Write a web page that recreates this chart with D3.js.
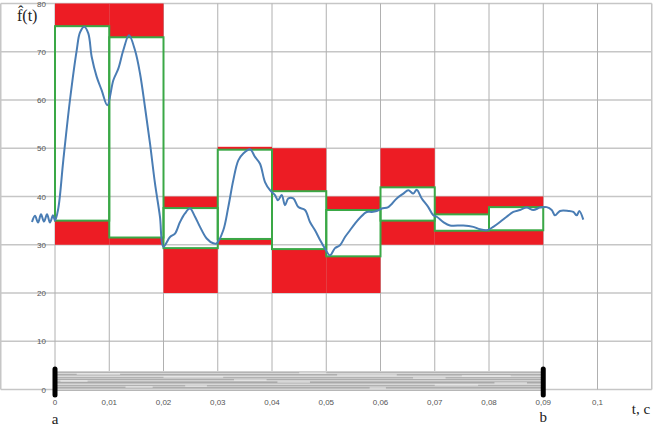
<!DOCTYPE html>
<html>
<head>
<meta charset="UTF-8">
<title>f(t)</title>
<script src="https://d3js.org/d3.v7.min.js"></script>
<style>
html, body { margin: 0; padding: 0; background: #fff; }
svg { display: block; }
.tick-lbl { font-family: "Liberation Sans", Arial, sans-serif; font-size: 8px; fill: #555; }
.serif { font-family: "Liberation Serif", "Times New Roman", serif; fill: #222; }
</style>
</head>
<body>
<script>
// curve f(t): time (s) and value
var curveT = [-0.00424, -0.00369, -0.00313, -0.00258, -0.00203, -0.00147, -0.00092, -0.00037, 0,
  0.0006, 0.00153, 0.00276, 0.004, 0.00461, 0.0054, 0.00614, 0.00677, 0.00769, 0.00861, 0.00964,
  0.01075, 0.01167, 0.01259, 0.01364, 0.01475, 0.01567, 0.01659, 0.01751, 0.01843, 0.01935, 0.01996,
  0.0212, 0.02212, 0.02304, 0.02396, 0.02488, 0.02581, 0.02673, 0.02796, 0.02918, 0.02981,
  0.03102, 0.03194, 0.03287, 0.03379, 0.03471, 0.03594, 0.03687, 0.03779, 0.03871, 0.03963,
  0.04055, 0.04111, 0.04179, 0.0424, 0.04301, 0.04393, 0.04485, 0.04608, 0.047, 0.04793, 0.04885, 0.04977,
  0.05069, 0.05161, 0.05253, 0.05346, 0.05438, 0.0553, 0.05622, 0.05746, 0.05838, 0.0593,
  0.06022, 0.06144, 0.06299, 0.0642, 0.06512, 0.06605, 0.06667, 0.0676, 0.06881, 0.06973,
  0.07036, 0.07158, 0.07281, 0.07526, 0.07711, 0.07834, 0.07958,
  0.08079, 0.08203, 0.08326, 0.08448, 0.08571, 0.08695, 0.08817, 0.0894,
  0.09064, 0.09156, 0.09217, 0.09309, 0.09462, 0.09554, 0.09617, 0.09665, 0.09738];
var curveF = [34.7, 36, 34.6, 36.3, 34.8, 36.3, 34.6, 36.1, 35,
  37.5, 47.5, 60, 70.3, 74, 75.2, 73.8, 68.9, 64.8, 62, 58.9,
  64.1, 66.5, 70.3, 73.4, 70.3, 65.5, 58.5, 51, 42.7, 35.8, 29.6,
  31.6, 32.3, 34.7, 36.5, 37.5, 35.8, 33.7, 31.3, 30.3, 30.3,
  33, 37.8, 43.4, 47.5, 48.9, 49.8, 48.2, 46.8, 43, 41.3,
  40.3, 39.2, 40.3, 38.2, 39.6, 39.6, 37.8, 37.2, 34.7, 33, 31, 29.2,
  27.8, 29.3, 29.9, 31.6, 33, 34.4, 35.6, 36.8, 36.8, 37,
  37.5, 37.8, 39.6, 40.6, 41.3, 40.6, 41.4, 39.6, 37.8, 36.1,
  35.8, 34.7, 34, 34, 33.7, 33.2, 33,
  33.7, 34.7, 35.8, 36.8, 37.2, 37.7, 37.2, 37.7,
  37.8, 37.2, 36.1, 37, 37, 36.8, 36.1, 37, 35.2];

// sub-intervals of 0.01 s: outer bounds (red) and inner min/max (green)
var segStart = [0, 0.01, 0.02, 0.03, 0.04, 0.05, 0.06, 0.07, 0.08];
var segLow   = [30, 30, 20, 30, 20, 20, 30, 30, 30];
var segMin   = [35, 31.5, 29.3, 31.2, 29.1, 27.6, 35, 32.9, 33];
var segMax   = [75.3, 73, 37.6, 49.7, 41.1, 37.2, 41.9, 36.3, 37.8];
var segHigh  = [80, 80, 40, 50.3, 50, 40, 50, 40, 40];

var xTicks = [0, 0.01, 0.02, 0.03, 0.04, 0.05, 0.06, 0.07, 0.08, 0.09, 0.1];
var yTicks = [0, 10, 20, 30, 40, 50, 60, 70, 80];
var endsT = [0, 0.09];
var endsLbl = ["a", "b"];

var width = 660, height = 432;

var svg = d3.select("body").append("svg")
    .attr("width", width)
    .attr("height", height);

var x = d3.scaleLinear().domain([-0.01, 0.11]).range([0.75, 651.75]);
var y = d3.scaleLinear().domain([0, 80]).range([389.5, 3.5]);

var grid = svg.append("g");
// horizontal grid
grid.selectAll("line.h").data(yTicks).enter().append("line")
    .attr("x1", x(-0.01)).attr("x2", x(0.11))
    .attr("y1", function (d) { return y(d); })
    .attr("y2", function (d) { return y(d); })
    .attr("stroke", "#c6c6c6").attr("stroke-width", 1.5);
// vertical grid
grid.selectAll("line.v").data([-0.01].concat(xTicks, [0.11])).enter().append("line")
    .attr("x1", function (d) { return x(d); })
    .attr("x2", function (d) { return x(d); })
    .attr("y1", y(80)).attr("y2", y(0))
    .attr("stroke", function (d) { return (d < -0.005 || d > 0.105) ? "#c6c6c6" : "#b0b0b0"; })
    .attr("stroke-width", function (d) { return (d < -0.005 || d > 0.105) ? 1.5 : 1; });

// tick labels
svg.append("g").selectAll("text").data(yTicks).enter().append("text")
    .attr("class", "tick-lbl")
    .attr("x", 46).attr("y", function (d) { return y(d) + 3; })
    .attr("text-anchor", "end")
    .text(function (d) { return d; });
svg.append("g").selectAll("text").data(xTicks).enter().append("text")
    .attr("class", "tick-lbl")
    .attr("x", function (d) { return x(d); }).attr("y", 405)
    .attr("text-anchor", "middle")
    .text(function (d) { return String(d).replace(".", ","); });

// noisy gray band under the axis
var band = svg.append("g");
var bandShades = ["#cfcfcf", "#b4b4b4", "#d6d6d6", "#aeaeae", "#c4c4c4", "#dadada", "#b2b2b2",
  "#c8c8c8", "#acacac", "#d2d2d2", "#bcbcbc", "#a9a9a9", "#c2c2c2", "#d8d8d8", "#b0b0b0",
  "#cacaca", "#adadad", "#bfbfbf", "#d4d4d4", "#b6b6b6"];
band.selectAll("rect").data(bandShades).enter().append("rect")
    .attr("x", x(0)).attr("width", x(0.09) - x(0))
    .attr("y", function (d, i) { return 371 + i; })
    .attr("height", 1)
    .attr("fill", function (d) { return d; });
var streaks = [[0.004, 0.012, 3], [0.02, 0.031, 6], [0.041, 0.047, 11], [0.052, 0.063, 4],
  [0.07, 0.078, 14], [0.013, 0.018, 16], [0.033, 0.039, 9], [0.066, 0.072, 7], [0.081, 0.087, 12],
  [0.001, 0.006, 10], [0.024, 0.028, 15], [0.045, 0.05, 2], [0.058, 0.061, 17], [0.075, 0.084, 5]];
band.selectAll("line").data(streaks).enter().append("line")
    .attr("x1", function (d) { return x(d[0]); }).attr("x2", function (d) { return x(d[1]); })
    .attr("y1", function (d) { return 371 + d[2]; }).attr("y2", function (d) { return 371 + d[2]; })
    .attr("stroke", "#f2f2f2").attr("stroke-width", 1);

// red / green boxes
var segs = segStart.map(function (s, i) {
  return { t0: s, t1: s + 0.01, low: segLow[i], min: segMin[i], max: segMax[i], high: segHigh[i] };
});
var boxes = svg.append("g");
boxes.selectAll("rect.top").data(segs).enter().append("rect")
    .attr("x", function (d) { return x(d.t0); })
    .attr("width", function (d) { return x(d.t1) - x(d.t0); })
    .attr("y", function (d) { return y(d.high); })
    .attr("height", function (d) { return y(d.max) - y(d.high); })
    .attr("fill", "#ed1c24");
boxes.selectAll("rect.bot").data(segs).enter().append("rect")
    .attr("x", function (d) { return x(d.t0); })
    .attr("width", function (d) { return x(d.t1) - x(d.t0); })
    .attr("y", function (d) { return y(d.min); })
    .attr("height", function (d) { return y(d.low) - y(d.min); })
    .attr("fill", "#ed1c24");
boxes.selectAll("rect.mid").data(segs).enter().append("rect")
    .attr("x", function (d) { return x(d.t0); })
    .attr("width", function (d) { return x(d.t1) - x(d.t0); })
    .attr("y", function (d) { return y(d.max); })
    .attr("height", function (d) { return y(d.min) - y(d.max); })
    .attr("fill", "none")
    .attr("stroke", "#3aa846").attr("stroke-width", 2);

// the curve
var line = d3.line()
    .x(function (d, i) { return x(curveT[i]); })
    .y(function (d) { return y(d); })
    .curve(d3.curveCatmullRom.alpha(0.5));
svg.append("path")
    .datum(curveF)
    .attr("d", line)
    .attr("fill", "none")
    .attr("stroke", "#4a7db4")
    .attr("stroke-width", 2);

// interval ends a, b
svg.append("g").selectAll("line").data(endsT).enter().append("line")
    .attr("x1", function (d) { return x(d); }).attr("x2", function (d) { return x(d); })
    .attr("y1", 369).attr("y2", 395)
    .attr("stroke", "#000").attr("stroke-width", 5)
    .attr("stroke-linecap", "round");
svg.append("g").selectAll("text").data(endsT).enter().append("text")
    .attr("class", "serif")
    .attr("x", function (d) { return x(d); })
    .attr("y", function (d, i) { return i === 0 ? 424 : 422; })
    .attr("text-anchor", "middle")
    .attr("font-size", 15)
    .text(function (d, i) { return endsLbl[i]; });

svg.append("text").attr("class", "serif")
    .attr("x", 641).attr("y", 414)
    .attr("text-anchor", "middle")
    .attr("font-size", 15)
    .text("t, c");
svg.append("text").attr("class", "serif")
    .attr("x", 17).attr("y", 21)
    .attr("font-size", 16)
    .text("f\u0302(t)");
</script>
</body>
</html>
